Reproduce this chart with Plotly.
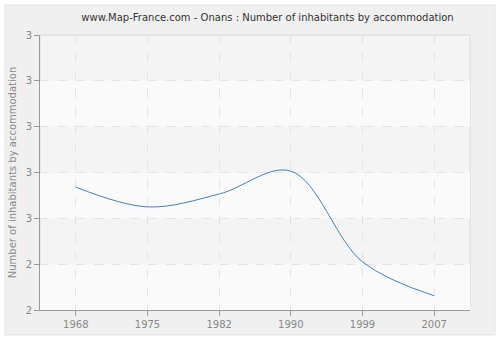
import plotly.graph_objects as go

years = ["1968", "1975", "1982", "1990", "1999", "2007"]
values = [2.568, 2.525, 2.553, 2.603, 2.405, 2.331]
y_tickvals = [2.3, 2.4, 2.5, 2.6, 2.7, 2.8, 2.9]
y_ticktext = ["2", "2", "3", "3", "3", "3", "3"]

title = "www.Map-France.com - Onans : Number of inhabitants by accommodation"
ytitle = "Number of inhabitants by accommodation"

fig = go.Figure()
fig.add_trace(go.Scatter(
    x=years, y=values, mode="lines",
    line=dict(color="#4f7dae", width=1, shape="spline", smoothing=1.0),
    hoverinfo="x+y", showlegend=False,
))

shapes = [
    dict(type="rect", xref="paper", yref="paper", x0=-0.0814, x1=1.058, y0=-0.0909, y1=1.109,
         fillcolor="#f0f0f0", line=dict(color="#e2e2e2", width=1), layer="below"),
    dict(type="rect", xref="paper", yref="paper", x0=0, x1=1, y0=0, y1=1,
         fillcolor="#f4f4f4", line=dict(color="#d8d8d8", width=1), layer="below"),
]
for i in range(0, len(y_tickvals) - 1, 2):
    shapes.append(dict(type="rect", xref="paper", yref="y", x0=0, x1=1,
                       y0=y_tickvals[i], y1=y_tickvals[i + 1],
                       fillcolor="#fafafa", line=dict(width=0), layer="below"))

fig.update_layout(
    width=500, height=340,
    margin=dict(l=40, r=30, t=35, b=30),
    paper_bgcolor="#ffffff",
    plot_bgcolor="rgba(0,0,0,0)",
    shapes=shapes,
    title=dict(text=title, x=0.535, xanchor="center", y=0.95, yanchor="middle",
               font=dict(family="DejaVu Sans", size=10, color="#333333")),
    font=dict(family="DejaVu Sans", size=10, color="#888888"),
    xaxis=dict(
        type="category", range=[-0.5, 5.5], automargin=False,
        showgrid=True, gridcolor="#e4e4e4", griddash="dash", gridwidth=1,
        showline=True, linecolor="#999999", linewidth=1,
        ticks="outside", ticklen=5, tickcolor="#999999",
        tickfont=dict(size=10, color="#888888"),
        zeroline=False, mirror=False,
    ),
    yaxis=dict(
        range=[2.3, 2.9], tickvals=y_tickvals, ticktext=y_ticktext, automargin=False,
        showgrid=True, gridcolor="#e4e4e4", griddash="dash", gridwidth=1,
        showline=True, linecolor="#999999", linewidth=1,
        ticks="outside", ticklen=5, tickcolor="#999999",
        tickfont=dict(size=10, color="#888888"),
        title=dict(text=ytitle, font=dict(size=10, color="#888888"), standoff=7),
        zeroline=False,
    ),
)
fig.write_html("out.html")
